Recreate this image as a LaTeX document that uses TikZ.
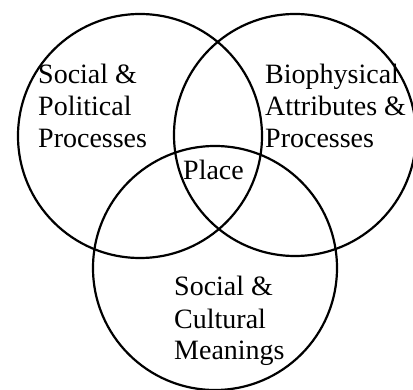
\documentclass[tikz,border=0pt]{standalone}
\usepackage{fontspec}
\setmainfont{Liberation Serif}
\begin{document}
\begin{tikzpicture}[x=1pt,y=-1pt,
  ring/.style={draw=black,line width=2.2pt},
  lbl/.style={inner sep=0pt,align=left,anchor=base west,font=\fontsize{28}{32}\selectfont}]
\useasboundingbox (0,0) rectangle (413,390);
\draw[ring] (140,136) circle[radius=122];
\draw[ring] (295,135) circle[radius=121];
\draw[ring] (215,268) circle[radius=122];
\node[lbl] (sp) at (38,148) {Social \&\\Political\\Processes};
\node[lbl] (bio) at (265,148) {Biophysical\\Attributes \&\\Processes};
\node[lbl] (place) at (183,180) {Place};
\node[lbl] (sc) at (174,360) {Social \&\\Cultural\\Meanings};
\end{tikzpicture}
\end{document}
